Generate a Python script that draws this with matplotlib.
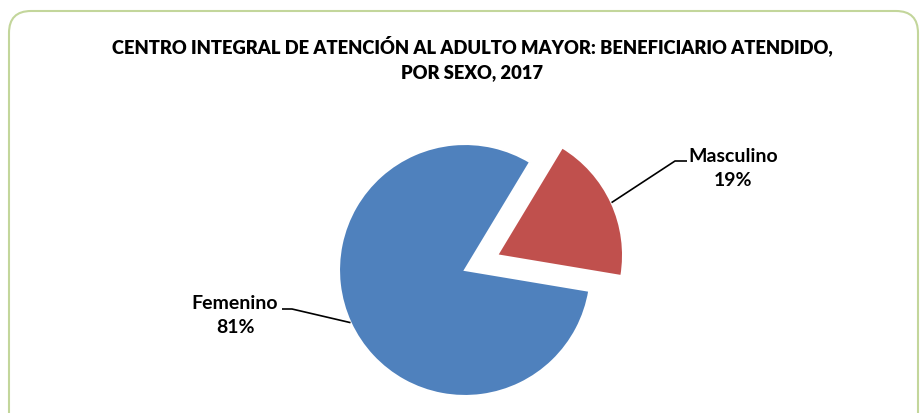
import numpy as np
import matplotlib
matplotlib.use("Agg")
import matplotlib.pyplot as plt
from matplotlib.patches import FancyBboxPatch
from matplotlib.transforms import IdentityTransform

# data
labels = ["Masculino", "Femenino"]
values = [19, 81]
colors = ["#c0504d", "#4f81bd"]
title = "CENTRO INTEGRAL DE ATENCIÓN AL ADULTO MAYOR: BENEFICIARIO ATENDIDO,\nPOR SEXO, 2017"

plt.rcParams['font.family'] = ['Lato', 'DejaVu Sans']

W, H = 923, 414
fig = plt.figure(figsize=(W / 100, H / 100), dpi=100)

# pie center / radius in pixels
cx, cy, R = 465, 271, 126
ax = fig.add_axes([0, 0, 1, 1])

wedges, _ = ax.pie(values, colors=colors, startangle=-9.5, explode=[0.28, 0],
                   wedgeprops=dict(edgecolor="white", linewidth=1.5))
ax.set_xlim(-cx / R, (W - cx) / R)
ax.set_ylim((cy - H) / R, cy / R)
ax.axis("off")

def px(x, y):
    return (x - cx) / R, (cy - y) / R

# labels with leader lines
label_pos = {"Masculino": (733, 168.5), "Femenino": (235, 315.5)}
elbows = {"Masculino": [(687, 162), (675, 162)], "Femenino": [(282, 310), (292, 310)]}
for w, lab, v in zip(wedges, labels, values):
    ang = np.deg2rad((w.theta1 + w.theta2) / 2)
    ox, oy = w.center
    ax_pt = (ox + w.r * np.cos(ang), oy + w.r * np.sin(ang))
    pts = [px(*p) for p in elbows[lab]] + [ax_pt]
    ax.plot([p[0] for p in pts], [p[1] for p in pts], color="black", lw=1.2,
            solid_capstyle="butt")
    tx, ty = px(*label_pos[lab])
    ax.text(tx, ty, f"{lab}\n{v}%", ha="center", va="center", fontsize=14,
            fontweight="bold", linespacing=1.55, color="black")

fig.text(472 / W, 1 - 58 / H, title, ha="center", va="center", fontsize=13.2,
         fontweight="heavy", linespacing=1.6, color="black")

border = FancyBboxPatch((9, -30), 909, H - 12 + 30, boxstyle="round,pad=0,rounding_size=22",
                        transform=IdentityTransform(), fill=False,
                        edgecolor="#c3d69b", linewidth=1.5)
fig.patches.append(border)

fig.savefig("out.png", dpi=100)
